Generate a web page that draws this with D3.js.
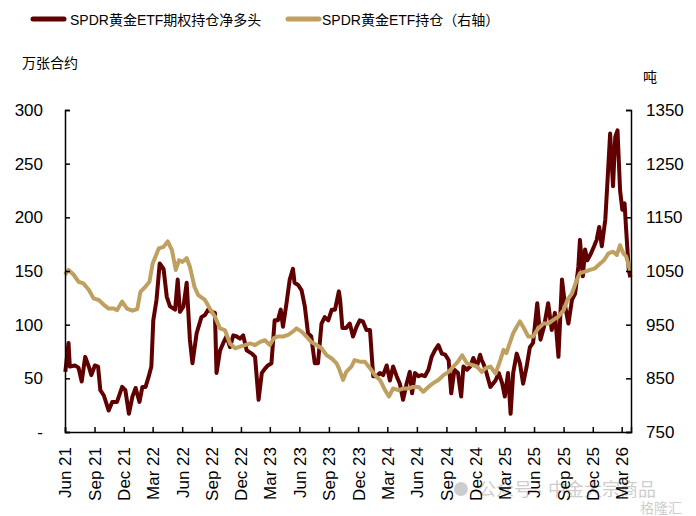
<!DOCTYPE html>
<html><head><meta charset="utf-8">
<script src="https://cdn.jsdelivr.net/npm/d3@7"></script>
<style>body{margin:0;background:#fff}svg{display:block}text{font-family:Arial,"Liberation Sans","Noto Sans CJK SC",sans-serif}</style>
</head><body><svg id="c" width="696" height="516"></svg>
<script>
const seriesNames = ["SPDR黄金ETF期权持仓净多头", "SPDR黄金ETF持仓（右轴）"];
const leftUnit = "万张合约", rightUnit = "吨";
const leftTicks = [0, 50, 100, 150, 200, 250, 300];
const leftTickLabels = ["-", "50", "100", "150", "200", "250", "300"];
const rightTicks = [750, 850, 950, 1050, 1150, 1250, 1350];

const redDates = ["2021-06-02","2021-06-12","2021-06-16","2021-07-02","2021-07-13","2021-07-23","2021-08-03","2021-08-14","2021-08-22","2021-09-02","2021-09-12","2021-09-19","2021-09-30","2021-10-15","2021-10-26","2021-11-10","2021-11-26","2021-12-06","2021-12-17","2021-12-28",
"2022-01-07","2022-01-19","2022-01-28","2022-02-07","2022-02-17","2022-02-25","2022-03-03","2022-03-13","2022-03-23","2022-04-04","2022-04-14","2022-04-24","2022-05-10","2022-05-18","2022-05-25","2022-06-05","2022-06-15","2022-06-25","2022-07-03","2022-07-16","2022-07-31","2022-08-11","2022-08-21","2022-09-01","2022-09-11","2022-09-16","2022-09-27","2022-10-07","2022-10-17","2022-10-28","2022-11-07","2022-11-18","2022-11-28","2022-12-08","2022-12-19",
"2023-01-04","2023-01-14","2023-01-25","2023-02-04","2023-02-14","2023-02-23","2023-03-06","2023-03-16","2023-03-26","2023-04-04","2023-04-11","2023-04-22","2023-05-02","2023-05-12","2023-05-17","2023-05-28","2023-06-08","2023-06-18","2023-06-28","2023-07-08","2023-07-19","2023-07-29","2023-08-09","2023-08-19","2023-08-30","2023-09-10","2023-09-20","2023-10-02","2023-10-06","2023-10-13","2023-10-25","2023-11-05","2023-11-15","2023-11-26","2023-12-06","2023-12-16","2023-12-27",
"2024-01-07","2024-01-17","2024-01-28","2024-02-07","2024-02-17","2024-02-28","2024-03-09","2024-03-19","2024-03-30","2024-04-09","2024-04-19","2024-04-30","2024-05-10","2024-05-17","2024-05-26","2024-06-06","2024-06-16","2024-06-26","2024-07-07","2024-07-17","2024-07-27","2024-08-07","2024-08-18","2024-08-28","2024-09-08","2024-09-16","2024-09-26","2024-10-07","2024-10-17","2024-10-24","2024-11-04","2024-11-14","2024-11-24","2024-12-05","2024-12-15","2024-12-20","2024-12-25",
"2025-01-01","2025-01-16","2025-02-01","2025-02-11","2025-02-22","2025-03-02","2025-03-12","2025-03-20","2025-03-28","2025-04-08","2025-04-18","2025-04-28","2025-05-09","2025-05-19","2025-05-29","2025-06-11","2025-06-21","2025-07-02","2025-07-15","2025-07-26","2025-08-05","2025-08-16","2025-08-27","2025-09-06","2025-09-16","2025-09-27","2025-10-07","2025-10-17","2025-10-22","2025-10-31","2025-11-07","2025-11-14","2025-11-25","2025-12-05","2025-12-13","2025-12-21","2025-12-29",
"2026-01-09","2026-01-16","2026-01-24","2026-02-02","2026-02-09","2026-02-16","2026-02-24","2026-03-03","2026-03-10","2026-03-15","2026-03-23","2026-03-28"];
const redValues = [56,83,61,62,60,47,70,61,53,62,61,39,34,20,28,28,42,39,17,33,
41,28,42,42,52,61,104,123,157,152,126,117,114,142,112,117,139,86,64,92,107,109,114,112,111,55,76,83,89,79,90,89,87,90,76,
73,70,30,55,59,62,64,104,104,114,98,120,142,152,139,137,132,117,92,89,64,64,101,107,104,114,114,131,123,97,97,101,89,98,104,103,95,
95,52,52,55,53,62,48,61,52,45,30,45,56,36,55,52,53,52,58,70,76,81,73,72,67,36,58,55,33,61,58,61,69,61,72,67,64,
58,42,48,55,45,33,55,17,55,73,64,45,61,79,83,120,86,98,120,95,111,70,142,117,101,123,129,154,179,145,170,160,166,173,179,191,173,
198,235,278,229,275,281,225,207,213,188,151,144];

const tanDates = ["2021-06-01","2021-06-12","2021-06-28","2021-07-13","2021-07-28","2021-08-14","2021-08-29","2021-09-14","2021-09-30","2021-10-15","2021-10-31","2021-11-10","2021-11-26","2021-12-11","2021-12-28",
"2022-01-12","2022-01-22","2022-02-07","2022-02-19","2022-03-01","2022-03-10","2022-03-20","2022-04-04","2022-04-17","2022-04-30","2022-05-12","2022-05-22","2022-06-02","2022-06-15","2022-06-25","2022-07-09","2022-07-21","2022-08-11","2022-08-26","2022-09-11","2022-09-27","2022-10-12","2022-10-28","2022-11-13","2022-11-28","2022-12-14","2022-12-30",
"2023-01-14","2023-01-30","2023-02-14","2023-03-01","2023-03-14","2023-03-26","2023-04-11","2023-04-27","2023-05-12","2023-05-23","2023-06-08","2023-06-23","2023-07-08","2023-07-24","2023-08-09","2023-08-25","2023-09-10","2023-09-25","2023-10-02","2023-10-15","2023-10-25","2023-11-10","2023-11-20","2023-12-06","2023-12-22",
"2024-01-07","2024-01-22","2024-02-07","2024-02-23","2024-03-06","2024-03-19","2024-04-04","2024-04-19","2024-05-05","2024-05-20","2024-06-06","2024-06-21","2024-07-07","2024-07-22","2024-08-07","2024-08-23","2024-09-08","2024-09-23","2024-10-07","2024-10-20","2024-11-04","2024-11-19","2024-12-05","2024-12-20",
"2025-01-01","2025-01-16","2025-02-01","2025-02-16","2025-02-26","2025-03-07","2025-03-17","2025-03-28","2025-04-08","2025-04-18","2025-04-28","2025-05-14","2025-05-29","2025-06-14","2025-06-30","2025-07-15","2025-07-31","2025-08-16","2025-09-01","2025-09-13","2025-09-27","2025-10-12","2025-10-22","2025-11-07","2025-11-22","2025-12-08","2025-12-24",
"2026-01-05","2026-01-19","2026-02-02","2026-02-14","2026-02-24","2026-03-06","2026-03-15","2026-03-28"];
const tanValues = [1043,1052,1043,1030,1027,1015,999,996,987,980,980,977,993,980,976,
979,1011,1021,1030,1064,1077,1092,1095,1105,1089,1052,1070,1067,1074,1058,1021,1005,996,980,965,943,940,915,906,909,912,915,
912,918,921,912,925,928,928,931,937,943,937,928,918,912,906,893,887,878,869,847,862,872,884,881,881,
869,856,847,828,816,831,828,831,831,834,834,825,834,841,847,856,862,872,881,893,878,875,872,862,
869,872,859,884,903,897,915,934,946,956,946,928,928,943,952,952,959,965,977,996,1008,1033,1046,1049,1052,1055,1064,
1070,1083,1086,1080,1098,1083,1077,1049];

const colors = ["#600000", "#C0A060"];
const parse = d3.timeParse("%Y-%m-%d");
const svg = d3.select("#c");
const L = 65, R = 631, T = 110, B = 432;

const x = d3.scaleTime().domain([parse("2021-06-01"), parse("2026-03-30")]).range([L, R]);
const yL = d3.scaleLinear().domain([0, 300]).range([B, T]);
const yR = d3.scaleLinear().domain([750, 1350]).range([B, T]);

const red = redDates.map((d, i) => ({d: parse(d), v: redValues[i]}));
const tan = tanDates.map((d, i) => ({d: parse(d), v: tanValues[i]}));

// watermark
const wm = svg.append("g").attr("fill", "#cdcdcd");
wm.append("circle").attr("cx", 461).attr("cy", 489).attr("r", 7);
wm.append("text").attr("x", 478).attr("y", 496).attr("font-size", 18).text("公众号 · 中金大宗商品");
wm.append("text").attr("x", 640).attr("y", 513).attr("font-size", 14).text("格隆汇");

svg.append("path").datum(red).attr("fill", "none").attr("stroke", colors[0]).attr("stroke-width", 4)
  .attr("stroke-linejoin", "round").attr("d", d3.line().x(d => x(d.d)).y(d => yL(d.v)));
svg.append("path").datum(tan).attr("fill", "none").attr("stroke", colors[1]).attr("stroke-width", 4)
  .attr("stroke-linejoin", "round").attr("d", d3.line().x(d => x(d.d)).y(d => yR(d.v)));

// axes
const gl = svg.append("g").attr("transform", `translate(${L},0)`)
  .call(d3.axisRight(yL).tickValues(leftTicks).tickSize(5).tickFormat((d, i) => leftTickLabels[i]));
gl.selectAll("text").attr("x", -22).attr("text-anchor", "end").attr("font-size", 17).attr("fill", "#000");
const gr = svg.append("g").attr("transform", `translate(${R},0)`)
  .call(d3.axisLeft(yR).tickValues(rightTicks).tickSize(5).tickFormat(d3.format("d")));
gr.selectAll("text").attr("x", 15).attr("text-anchor", "start").attr("font-size", 17).attr("fill", "#000");
const months = d3.timeMonth.range(parse("2021-06-01"), parse("2026-03-02"), 3);
const gx = svg.append("g").attr("transform", `translate(0,${B})`)
  .call(d3.axisTop(x).tickValues(months).tickSize(5).tickFormat(d3.timeFormat("%b %y")));
gx.selectAll("text").attr("transform", "rotate(-90)").attr("text-anchor", "end")
  .attr("x", -15).attr("y", 0).attr("dy", "0.35em").attr("font-size", 17).attr("fill", "#000");
[gl, gr, gx].forEach(g => { g.select(".domain").attr("stroke", "#000").attr("stroke-width", 1.5); g.selectAll(".tick line").attr("stroke", "#000").attr("stroke-width", 1.5); });

// units
svg.append("text").attr("x", 22).attr("y", 68).attr("font-size", 14).text(leftUnit);
svg.append("text").attr("x", 643).attr("y", 82).attr("font-size", 14).text(rightUnit);

// legend
const leg = [{x: 33, tx: 70}, {x: 288, tx: 322}];
leg.forEach((p, i) => {
  svg.append("line").attr("x1", p.x).attr("x2", p.x + 31).attr("y1", 19).attr("y2", 19)
    .attr("stroke", colors[i]).attr("stroke-width", 5).attr("stroke-linecap", "round");
  svg.append("text").attr("x", p.tx).attr("y", 25).attr("font-size", 14).text(seriesNames[i]);
});
</script></body></html>
